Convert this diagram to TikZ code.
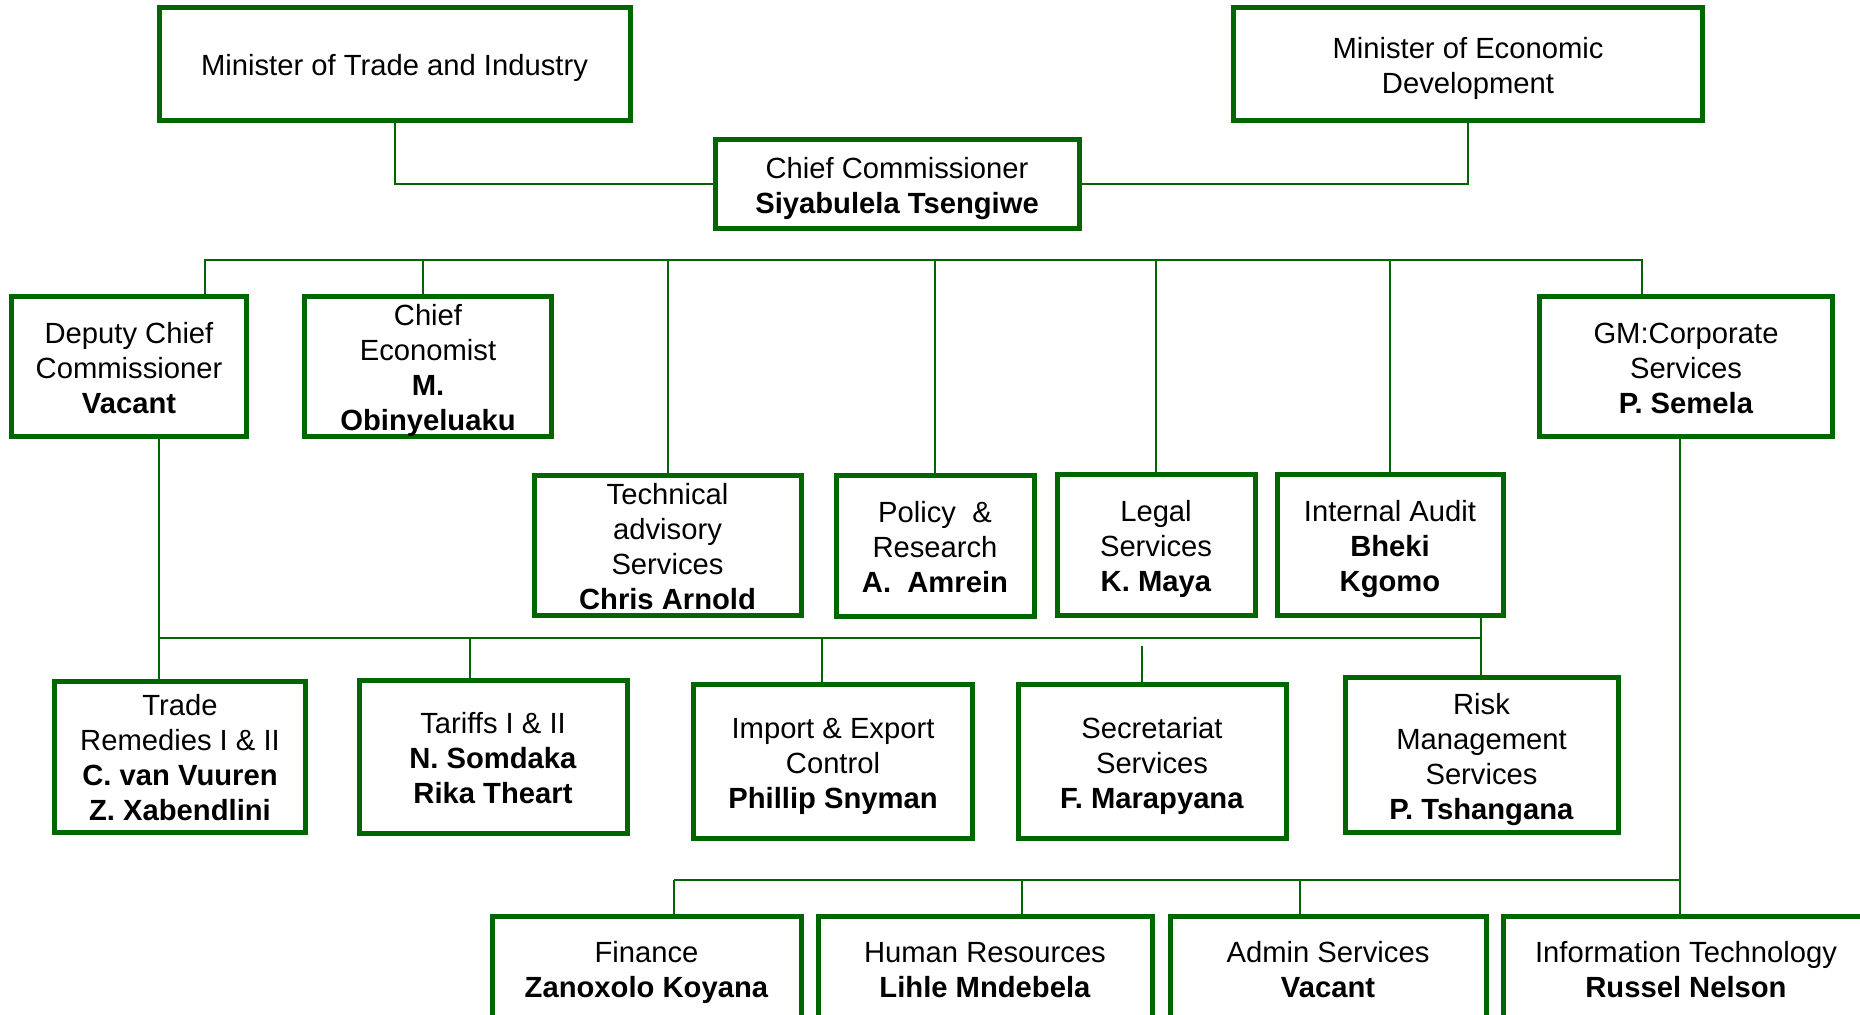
\documentclass[tikz,border=0pt]{standalone}
\usepackage{fontspec}
\setmainfont{Liberation Sans}
\definecolor{tidgreen}{RGB}{0,102,0}
\newcommand{\boxtop}{\rule{0pt}{14.4pt}}
\newcommand{\boxbot}{\rule[-3.1pt]{0pt}{3.1pt}}

\begin{document}
\begin{tikzpicture}[x=0.5pt,y=-0.5pt]
\useasboundingbox (0,0) rectangle (1860,1015);
\clip (0,0) rectangle (1860,1015);
\begin{scope}[every node/.style={draw=tidgreen,line width=2.5pt,fill=white,inner sep=0pt,align=center,
              font=\fontsize{14.6}{17.5}\selectfont}]
    \node[minimum width=235.5pt,minimum height=56.5pt] (mti) at (394.5,64.5) {\boxtop Minister of Trade and Industry\boxbot};
    \node[minimum width=234.5pt,minimum height=56.5pt] (med) at (1468,64.5) {\boxtop Minister of Economic\\Development\boxbot};
    \node[minimum width=182pt,minimum height=44.5pt] (cc) at (897,184.5) {\boxtop Chief Commissioner\\\textbf{Siyabulela Tsengiwe}\boxbot};
    \node[minimum width=117.5pt,minimum height=70pt] (dep) at (129,367) {\boxtop Deputy Chief\\Commissioner\\\textbf{Vacant}\boxbot};
    \node[minimum width=123.5pt,minimum height=70pt] (ce) at (428,367) {\boxtop Chief\\Economist\\\textbf{M.}\\\textbf{Obinyeluaku}\boxbot};
    \node[minimum width=146.5pt,minimum height=70pt] (gm) at (1686,367) {\boxtop GM:Corporate\\Services\\\textbf{P. Semela}\boxbot};
    \node[minimum width=133.5pt,minimum height=70pt] (tas) at (667.5,545.5) {\boxtop Technical\\advisory\\Services\\\textbf{Chris Arnold}\boxbot};
    \node[minimum width=99pt,minimum height=70.5pt] (pr) at (935,546.5) {\boxtop Policy~~\&\\Research\\\textbf{A.~~Amrein}\boxbot};
    \node[minimum width=99pt,minimum height=70.5pt] (legal) at (1156,545.5) {\boxtop Legal\\Services\\\textbf{K. Maya}\boxbot};
    \node[minimum width=113pt,minimum height=70.5pt] (ia) at (1390,545.5) {\boxtop Internal Audit\\\textbf{Bheki}\\\textbf{Kgomo}\boxbot};
    \node[minimum width=125.5pt,minimum height=75.5pt] (trade) at (180,757) {\boxtop Trade\\Remedies I \& II\\\textbf{C. van Vuuren}\\\textbf{Z. Xabendlini}\boxbot};
    \node[minimum width=134pt,minimum height=76.5pt] (tariffs) at (493,757) {\boxtop Tariffs I \& II\\\textbf{N. Somdaka}\\\textbf{Rika Theart}\boxbot};
    \node[minimum width=139.5pt,minimum height=77pt] (iec) at (833,762) {\boxtop Import \& Export\\Control\\\textbf{Phillip Snyman}\boxbot};
    \node[minimum width=134pt,minimum height=77pt] (sec) at (1152,762) {\boxtop Secretariat\\Services\\\textbf{F. Marapyana}\boxbot};
    \node[minimum width=136.5pt,minimum height=77.5pt] (risk) at (1481.5,755.5) {\boxtop Risk\\Management\\Services\\\textbf{P. Tshangana}\boxbot};
    \node[minimum width=154.5pt,minimum height=52pt] (fin) at (646.5,969) {\boxtop Finance\\\textbf{Zanoxolo Koyana}\boxbot};
    \node[minimum width=167pt,minimum height=52pt] (hr) at (985,969) {\boxtop Human Resources\\\textbf{Lihle Mndebela}\boxbot};
    \node[minimum width=158pt,minimum height=52pt] (adm) at (1328,969) {\boxtop Admin Services\\\textbf{Vacant}\boxbot};
    \node[minimum width=183pt,minimum height=52pt] (it) at (1686,969) {\boxtop Information Technology\\\textbf{Russel Nelson}\boxbot};
\end{scope}

\begin{scope}[tidgreen,line width=1pt]
    \coordinate (b1l) at (205,260);
    \coordinate (b1r) at (1642,260);
    \coordinate (b2l) at (159,638);
    \coordinate (b2r) at (1481,638);
    \coordinate (b3l) at (674,880);
    \coordinate (b3r) at (1680,880);
    \coordinate (t0) at (423,260);
    \coordinate (t1) at (470,638);
    \coordinate (t2) at (822,638);
    \coordinate (t3) at (1142,646);
    \coordinate (t4) at (1022,880);
    \coordinate (t5) at (1300,880);
    \draw (mti) |- (cc);
    \draw (med) |- (cc);
    \draw (dep.north -| b1l) |- (b1r) -- (gm.north -| b1r);
    \draw (t0) -- (t0 |- ce.north);
    \draw (b1l -| tas) -- (tas);
    \draw (b1l -| pr) -- (pr);
    \draw (b1l -| legal) -- (legal);
    \draw (b1l -| ia) -- (ia);
    \draw (dep.south -| b2l) -- (trade.north -| b2l);
    \draw (b2l) -- (b2r);
    \draw (ia.south -| b2r) -- (risk.north -| b2r);
    \draw (t1) -- (t1 |- tariffs.north);
    \draw (t2) -- (t2 |- iec.north);
    \draw (t3) -- (t3 |- sec.north);
    \draw (gm.south -| b3r) -- (it.north -| b3r);
    \draw (b3l) -- (b3r);
    \draw (b3l) -- (fin.north -| b3l);
    \draw (t4) -- (t4 |- hr.north);
    \draw (t5) -- (t5 |- adm.north);
\end{scope}
\end{tikzpicture}
\end{document}
